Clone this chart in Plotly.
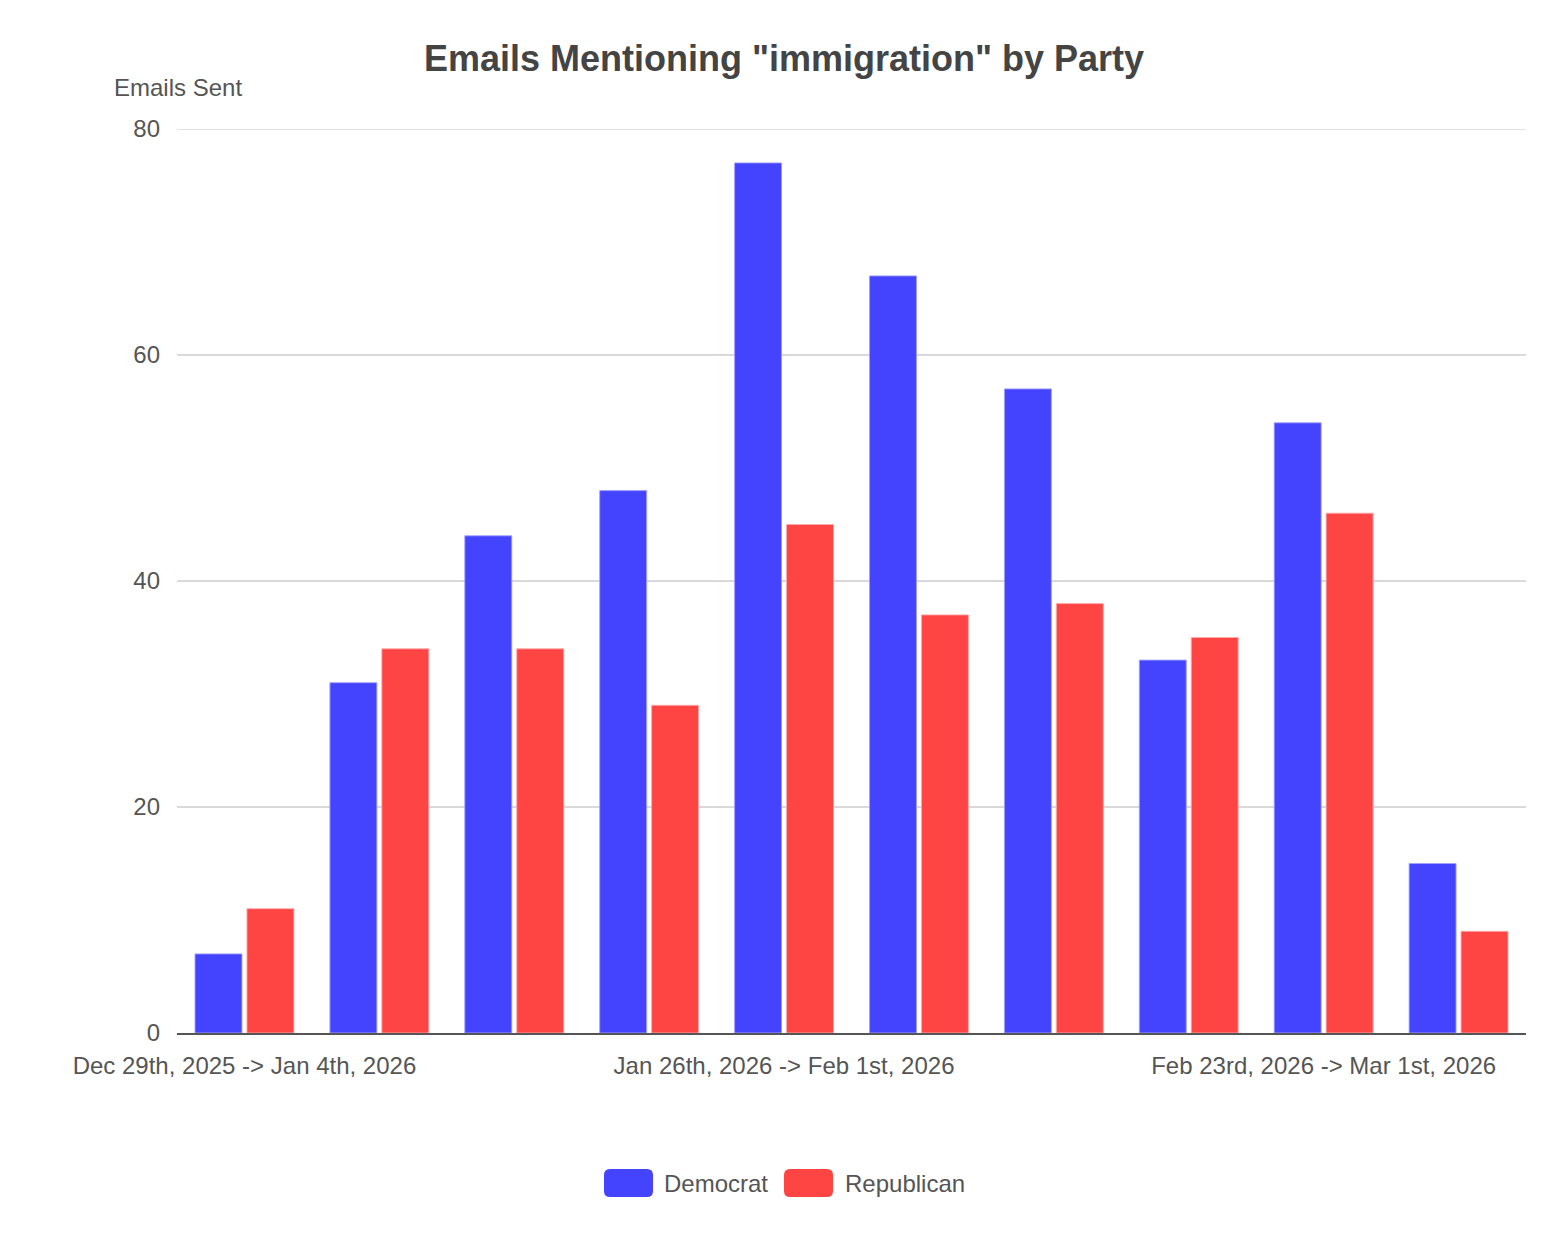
import plotly.graph_objects as go

weeks = [
    "Dec 29th, 2025 -> Jan 4th, 2026",
    "Jan 5th, 2026 -> Jan 11th, 2026",
    "Jan 12th, 2026 -> Jan 18th, 2026",
    "Jan 19th, 2026 -> Jan 25th, 2026",
    "Jan 26th, 2026 -> Feb 1st, 2026",
    "Feb 2nd, 2026 -> Feb 8th, 2026",
    "Feb 9th, 2026 -> Feb 15th, 2026",
    "Feb 16th, 2026 -> Feb 22nd, 2026",
    "Feb 23rd, 2026 -> Mar 1st, 2026",
    "Mar 2nd, 2026 -> Mar 8th, 2026",
]
democrat = [7, 31, 44, 48, 77, 67, 57, 33, 54, 15]
republican = [11, 34, 34, 29, 45, 37, 38, 35, 46, 9]
shown_ticks = [weeks[0], weeks[4], weeks[8]]
y_ticks = [0, 20, 40, 60, 80]

FONT = "Liberation Sans, Arial, Helvetica, sans-serif"
TXT = "#555555"
BLUE = "#4444FF"
RED = "#FF4444"
GRID = "#d9d9d9"

# page-pixel layout helpers (page has an 8px body margin)
PL, PR, PT, PB = 177, 1526, 129, 1033
W, H = 1558, 1244


def px(x):
    return (x - PL) / (PR - PL)


def py(y):
    return (PB - y) / (PB - PT)


fig = go.Figure()
fig.add_trace(go.Bar(
    x=weeks, y=democrat, name="Democrat",
    marker=dict(color=BLUE, line=dict(color="rgba(160,160,255,0.9)", width=1)),
))
fig.add_trace(go.Bar(
    x=weeks, y=republican, name="Republican",
    marker=dict(color=RED, line=dict(color="rgba(255,170,170,0.9)", width=1)),
))


def rounded_rect(x0, y0, x1, y1, r):
    X0, X1 = px(x0), px(x1)
    Y0, Y1 = py(y1), py(y0)  # bottom, top in paper
    rx = r / (PR - PL)
    ry = r / (PB - PT)
    return (f"M {X0+rx} {Y0} L {X1-rx} {Y0} Q {X1} {Y0} {X1} {Y0+ry} "
            f"L {X1} {Y1-ry} Q {X1} {Y1} {X1-rx} {Y1} L {X0+rx} {Y1} "
            f"Q {X0} {Y1} {X0} {Y1-ry} L {X0} {Y0+ry} Q {X0} {Y0} {X0+rx} {Y0} Z")


legend_items = [("Democrat", BLUE, 604, 664), ("Republican", RED, 784, 845)]
shapes = [dict(type="line", xref="paper", yref="y", x0=0, x1=1,
               y0=y_ticks[-1], y1=y_ticks[-1], line=dict(color=GRID, width=1.5),
               layer="below")]
annotations = [dict(
    text="Emails Sent", xref="paper", yref="paper",
    x=px(112), y=py(87), xanchor="left", yanchor="middle", showarrow=False,
    font=dict(family=FONT, size=24, color=TXT),
)]
for name, col, sx, tx in legend_items:
    shapes.append(dict(type="path", xref="paper", yref="paper",
                       path=rounded_rect(sx, 1169, sx + 49, 1197, 6),
                       fillcolor=col, line=dict(width=0)))
    annotations.append(dict(text=name, xref="paper", yref="paper",
                            x=px(tx - 2), y=py(1183), xanchor="left", yanchor="middle",
                            showarrow=False, font=dict(family=FONT, size=24, color=TXT)))

fig.update_layout(
    width=W, height=H,
    paper_bgcolor="white", plot_bgcolor="white",
    margin=dict(l=PL - 8, r=W + 8 - PR, t=PT - 8, b=H + 8 - PB),
    barmode="group", bargap=0.23, bargroupgap=0.096,
    font=dict(family=FONT, color=TXT, size=24),
    title=dict(
        text='Emails Mentioning "immigration" by Party',
        x=(784 - 8) / W, xref="container", xanchor="center",
        y=1 - (58 - 8) / H, yref="container", yanchor="middle",
        font=dict(family=FONT, size=36, color="#444444", weight="bold"),
    ),
    showlegend=False,
    xaxis=dict(
        type="category",
        tickmode="array", tickvals=shown_ticks, ticktext=shown_ticks,
        tickangle=0, showgrid=False,
        showline=True, linecolor="#555555", linewidth=2,
        ticks="", ticklabelstandoff=10,
        tickfont=dict(family=FONT, size=24, color=TXT),
    ),
    yaxis=dict(
        range=[0, 80], tickmode="array", tickvals=y_ticks,
        showgrid=True, gridcolor=GRID, gridwidth=1.5,
        zeroline=False, showline=False, ticks="",
        ticklabelstandoff=16,
        tickfont=dict(family=FONT, size=24, color=TXT),
    ),
    shapes=shapes,
    annotations=annotations,
)

fig.write_html("out.html")
